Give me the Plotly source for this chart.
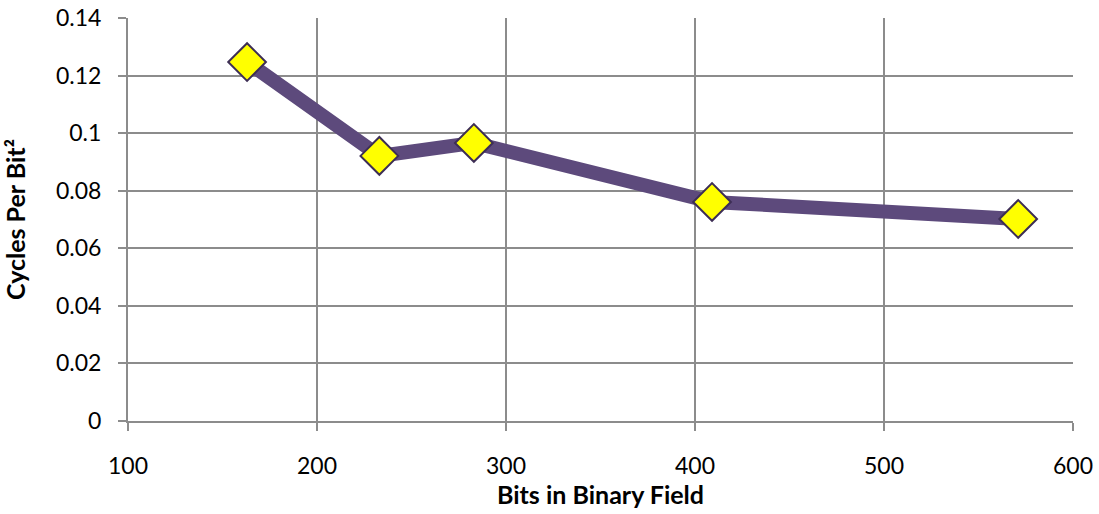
import plotly.graph_objects as go

# Binary field sizes (bits) and measured cost
field_bits = [163, 233, 283, 409, 571]
cycles_per_bit2 = [0.1247, 0.0921, 0.0966, 0.0761, 0.0702]

x_ticks = [100, 200, 300, 400, 500, 600]
y_ticks = [0, 0.02, 0.04, 0.06, 0.08, 0.1, 0.12, 0.14]
y_tick_text = ["0", "0.02", "0.04", "0.06", "0.08", "0.1", "0.12", "0.14"]

grid_color = "#8c8c8c"
font_family = "Lato, 'Open Sans', sans-serif"

fig = go.Figure()
fig.add_trace(go.Scatter(
    x=field_bits,
    y=cycles_per_bit2,
    mode="lines+markers",
    line=dict(color="#5d4a7c", width=14),
    marker=dict(symbol="diamond", size=29, color="#ffff00",
                line=dict(color="#3d2e55", width=2)),
    showlegend=False,
    hoverinfo="x+y",
))

fig.update_layout(
    width=1099,
    height=514,
    margin=dict(l=128, r=26, t=18, b=93),
    paper_bgcolor="white",
    plot_bgcolor="white",
    font=dict(family=font_family, size=23, color="#000000"),
    xaxis=dict(
        range=[100, 600],
        tickvals=x_ticks,
        ticktext=[str(v) for v in x_ticks],
        showgrid=True, gridcolor=grid_color, gridwidth=2,
        showline=True, linecolor=grid_color, linewidth=2,
        ticks="outside", ticklen=8, tickcolor=grid_color, tickwidth=2,
        ticklabelstandoff=15,
        zeroline=False,
        automargin=False,
        title=dict(text="<b>Bits in Binary Field</b>", font=dict(size=25), standoff=9),
    ),
    yaxis=dict(
        range=[0, 0.14],
        tickvals=y_ticks,
        ticktext=y_tick_text,
        showgrid=True, gridcolor=grid_color, gridwidth=2,
        showline=True, linecolor=grid_color, linewidth=2,
        ticks="outside", ticklen=8, tickcolor=grid_color, tickwidth=2,
        ticklabelstandoff=12,
        zeroline=False,
        automargin=False,
        title=dict(text="<b>Cycles Per Bit²</b>", font=dict(size=25), standoff=23),
    ),
)

fig.write_html("out.html")
